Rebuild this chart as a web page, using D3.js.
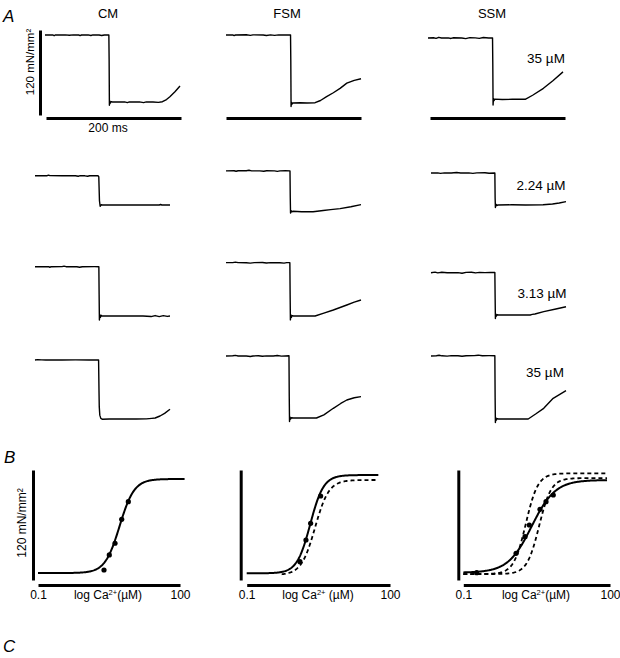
<!DOCTYPE html>
<html><head><meta charset="utf-8">
<script src="https://cdn.jsdelivr.net/npm/d3@7"></script>
<style>
body{margin:0;background:#fff;}
svg{display:block;font-family:"Liberation Sans",Arial,sans-serif;}
</style></head><body>
<svg id="c" width="620" height="658"></svg>
<script>
// ---------------- DATA ----------------
const muscles = ["CM", "FSM", "SSM"];
const concLabels = ["35 µM", "2.24 µM", "3.13 µM", "35 µM"];
const timeBar = [0, 200];          // ms
const forceBar = [0, 120];         // mN/mm²
const xTicksB = [0.1, 100];        // µM

// Force traces: [time (ms), force (mN/mm²)]
const trCM35a = [[0,94.6],[12,94.6],[13.5,93.6],[15,94.6],[30,94.8],[36,94.2],[42,94.8],[50,94.6],[52,93.8],[54,94.6],[64,94.7],[68,93.9],[71,94.8],[80,94.5],[84,93.8],[88,94.6],[94.6,94.6],[95,60],[95.4,-4.5],[96,1.5],[96.8,-1.5],[98,0.5],[100,0],[118,0.2],[122,-0.8],[125,0.2],[140,0.1],[146,-0.9],[150,0.1],[160,0],[168,-0.6],[174,0.4],[180,3.5],[185,7.5],[192.5,14.5],[200,22.6]];
const trFSM35a = [[0,96],[10,96.1],[12,95.2],[14,96],[30,96.3],[36,95.5],[40,96.2],[55,96],[60,95.3],[66,96.2],[72,95.4],[78,96.2],[86,95.9],[95.6,96.2],[96,60],[96.4,-5],[97,1],[97.8,-1.5],[99,0],[110,0.3],[120,0],[132,0.4],[140,3.5],[149,8.9],[159,14.5],[169,20.7],[179,28],[190,32],[200,34.3]];
const trSSM35a = [[0,86.9],[8,87.2],[12,86.3],[16,87.8],[20,86.9],[30,87],[34,86.2],[38,87.2],[50,86.8],[56,86],[62,87.4],[70,87],[76,86.3],[82,87.5],[90,86.8],[95.6,87],[96,50],[96.4,-7.8],[97,1.5],[97.8,-1.5],[99,0.5],[110,0],[125,0.3],[144,0.3],[155,6],[171,15.8],[185,26.5],[200,39]];

const trCM224 = [[0,41.4],[18,41.4],[20,42.2],[22,41.4],[40,41.3],[52,41.5],[60,41.3],[64,40.6],[67,41.4],[74,41.2],[78,40.6],[81,41.3],[93,41.5],[94.5,40],[95.5,6],[96.5,-1.8],[98,0.3],[100,0],[150,0],[184,0],[186,0.7],[188,0],[200,0]];
const trFSM224 = [[0,57],[12,57.2],[15,56.5],[18,57.2],[30,57.3],[34,57.9],[38,57.1],[50,57.1],[56,56.5],[60,57.2],[72,57.1],[76,56.4],[80,57.1],[88,57.3],[94.8,57],[95.2,20],[95.6,-2.5],[96.5,1],[97.5,-0.8],[99,0],[112,-0.6],[129,-0.6],[144,1.2],[155,2.3],[169,3.8],[185,6.5],[200,9.5]];
const trSSM224 = [[0,45.2],[10,45.4],[14,44.7],[20,45.4],[30,45.2],[38,45.8],[44,45.1],[56,45.3],[62,44.6],[68,45.4],[80,45.5],[86,44.8],[94.6,45.2],[95,10],[95.4,-3.5],[96.2,1],[97.2,-0.8],[99,0],[120,0.3],[140,0],[166,0.3],[180,1.5],[190,2.8],[200,4.7]];

const trCM313 = [[0,69.6],[20,69.6],[22,68.8],[24,69.6],[40,69.7],[43,70.4],[46,69.6],[62,69.6],[66,68.9],[70,69.6],[88,69.7],[94.6,69.6],[95,30],[95.4,-5.6],[96,2],[96.8,-2],[98,1],[99,0],[130,0],[160,0],[172,-0.8],[178,0.6],[184,-0.8],[190,0.5],[196,-0.6],[200,0]];
const trFSM313 = [[0,75.3],[10,75.4],[14,76.1],[18,75.3],[30,75.2],[36,74.6],[42,75.4],[54,75.6],[60,74.8],[66,75.4],[80,75.2],[86,74.6],[90,75.4],[94.6,75.3],[95,30],[95.4,-5.5],[96,2],[96.8,-2],[98,0.5],[100,0],[116,0],[132,0],[145,4],[159,8.5],[179,15.5],[190,19.5],[200,22.6]];
const trSSM313 = [[0,59.7],[6,60.5],[10,59.5],[16,60.3],[24,59.7],[40,59.8],[46,59],[52,60.2],[60,60.4],[66,59.4],[72,60.2],[80,59.8],[88,60],[94.6,60],[95,25],[95.4,-5],[96,1.5],[96.8,-1.5],[98,0.4],[100,0],[130,0],[147,0],[150,0.8],[154,1.4],[167,4.7],[185,8.5],[200,11.7]];

const trCM35b = [[0,82.9],[4,83.4],[10,83.1],[16,82.8],[40,82.9],[60,83],[80,82.9],[94.2,83],[94.8,40],[95.2,17],[96,5],[97.5,0.5],[100,-0.8],[110,-0.5],[130,-0.4],[150,-0.4],[165,-0.2],[173,0.5],[178,1],[185.2,3.8],[192,7.6],[200,13.3]];
const trFSM35b = [[0,87.6],[10,87.8],[14,88.4],[18,87.6],[30,87.5],[36,86.9],[40,87.6],[48,87.8],[54,87.1],[60,87.7],[70,87.6],[76,88.2],[82,87.4],[93.3,87.9],[93.7,30],[94.1,-5],[94.8,1.5],[95.6,-1.5],[97,0.4],[100,0],[120,0],[134,0],[145,4.5],[159,13.7],[170,20.5],[179,25.4],[190,28.6],[200,30.1]];
const trSSM35b = [[0,89],[8,89.3],[12,90],[16,89.2],[24,88.8],[30,89.4],[40,89.2],[46,88.5],[52,89.3],[64,89.5],[70,90.1],[76,89.3],[86,89.4],[94.6,89.4],[95,30],[95.4,-5],[96,2],[96.8,-1.5],[98,0.5],[100,0],[120,0],[144,0],[155,7],[167,15.1],[181,29.2],[200,40]];

const traces = [trCM35a, trFSM35a, trSSM35a, trCM224, trFSM224, trSSM224, trCM313, trFSM313, trSSM313, trCM35b, trFSM35b, trSSM35b];

// Panel B: Hill fits: EC50 (µM), nH, Fmin, Fmax (mN/mm²), range (µM)
const fitCM      = {ec50: 5.3,  n: 2.8, fmin: 5.5, fmax: 110,   from: 0.1,  to: 125};
const fitFSM     = {ec50: 2.14, n: 3.1, fmin: 5.2, fmax: 114.4, from: 0.1,  to: 57};
const fitFSMref  = {ec50: 2.7,  n: 3.0, fmin: 3.3, fmax: 108.9, from: 0.54, to: 57};
const fitSSM     = {ec50: 2.5,  n: 1.8, fmin: 5.9, fmax: 108.9, from: 0.1,  to: 87};
const fitSSMrefA = {ec50: 1.9,  n: 3.5, fmin: 4.4, fmax: 116.3, from: 0.1,  to: 87};
const fitSSMrefB = {ec50: 3.55, n: 3.5, fmin: 4.4, fmax: 111,   from: 0.1,  to: 87};

// Measured points [Ca²⁺ µM, force mN/mm²]
const ptsCM  = [[2.48,8.9],[3.21,25.6],[4.24,38.6],[5.87,65.2],[8.09,84.8]];
const ptsFSM = [[1.30,18.1],[1.74,42.2],[2.18,60.8],[3.53,91.1]];
const ptsSSM = [[0.188,5.9],[1.20,27.4],[1.83,45.9],[2.24,58.9],[3.70,76.3],[4.91,84.8],[6.92,92.2]];

// ---------------- LAYOUT ----------------
const svg = d3.select("#c");
const FONT = 12;
// trace origins: [x of t=0, y of zero force]
const traceLayout = [[45,102],[226,103],[428,99.5],[35,205],[226,211.3],[431,205],[35,316],[226,316],[431,315],[35,418.7],[226,418],[431,419]];
const titleX = [108, 287, 492];
const concLabelPos = [[546,63],[541,189.5],[542,298],[545,377]];
const timeBarPos = [[46,118],[226,118],[430,118]];

const xT = d3.scaleLinear().domain(timeBar).range([0,135]);
const yT = d3.scaleLinear().domain(forceBar).range([0,-85]);
const traceLine = d3.line().x(d => xT(d[0])).y(d => yT(d[1]));

// panel letters
[["A",3,22],["B",4,463],["C",3,652]].forEach(([t,x,y]) =>
  svg.append("text").attr("x",x).attr("y",y).attr("font-size",17).attr("font-style","italic").text(t));

// column titles
muscles.forEach((m,i) => svg.append("text").attr("x",titleX[i]).attr("y",18)
  .attr("text-anchor","middle").attr("font-size",13).text(m));

// traces
traces.forEach((tr,i) => {
  svg.append("path").attr("transform",`translate(${traceLayout[i][0]},${traceLayout[i][1]})`)
    .attr("d", traceLine(tr)).attr("fill","none").attr("stroke","#000")
    .attr("stroke-width",1.4).attr("stroke-linejoin","round");
});

// concentration labels
concLabels.forEach((c,i) => svg.append("text").attr("x",concLabelPos[i][0]).attr("y",concLabelPos[i][1])
  .attr("text-anchor","middle").attr("font-size",13.5).text(c));

// force scale bar
const vb = svg.append("g").attr("transform","translate(40,115)")
  .call(d3.axisLeft(yT).tickValues([]).tickSizeOuter(0));
vb.select(".domain").attr("stroke-width",3);
svg.append("text").attr("transform","translate(34,62) rotate(-90)").attr("text-anchor","middle")
  .attr("font-size",11.5).text("120 mN/mm²");

// time bars
timeBarPos.forEach(p => {
  const g = svg.append("g").attr("transform",`translate(${p[0]},${p[1]})`)
    .call(d3.axisBottom(xT).tickValues([]).tickSizeOuter(0));
  g.select(".domain").attr("stroke-width",3);
});
svg.append("text").attr("x",108).attr("y",132).attr("text-anchor","middle").attr("font-size",12).text("200 ms");

// ---------------- PANEL B ----------------
const yB = d3.scaleLinear().domain(forceBar).range([578,470]);
const panelsB = [
  {range:[38,180],   yAxisX:33,    fits:[[fitCM,false]],                              pts:ptsCM,  label:"(µM)",  labelX:108, ylab:true},
  {range:[246.7,390],yAxisX:240.7, fits:[[fitFSMref,true],[fitFSM,false]],            pts:ptsFSM, label:" (µM)", labelX:318},
  {range:[463.3,610],yAxisX:458.3, fits:[[fitSSMrefA,true],[fitSSMrefB,true],[fitSSM,false]], pts:ptsSSM, label:"(µM)",  labelX:536}
];
const hill = (f,c) => f.fmin + (f.fmax - f.fmin) / (1 + Math.pow(f.ec50 / c, f.n));

panelsB.forEach(p => {
  const xB = d3.scaleLog().domain([0.1,100]).range(p.range);
  const gx = svg.append("g").attr("transform","translate(0,585)")
    .call(d3.axisBottom(xB).tickValues(xTicksB).tickSize(0).tickSizeOuter(0).tickPadding(5.5)
      .tickFormat(d3.format("~g")));
  gx.select(".domain").attr("stroke-width",3);
  gx.selectAll("text").attr("font-size",FONT).attr("font-family","Liberation Sans, Arial, sans-serif");
  const gy = svg.append("g").attr("transform",`translate(${p.yAxisX},0)`)
    .call(d3.axisLeft(d3.scaleLinear().domain([-2,120]).range([580,470])).tickValues([]).tickSizeOuter(0));
  gy.select(".domain").attr("stroke-width",3);
  const t = svg.append("text").attr("x",p.labelX).attr("y",599).attr("text-anchor","middle").attr("font-size",FONT);
  t.append("tspan").text("log Ca");
  t.append("tspan").attr("font-size",7.5).attr("dy",-4.5).text("2+");
  t.append("tspan").attr("dy",4.5).text(p.label);
  p.fits.forEach(([f,dashed]) => {
    const lo = Math.log10(f.from), hi = Math.log10(f.to);
    const cs = d3.range(0,201).map(i => Math.pow(10, lo + (hi-lo)*i/200));
    svg.append("path").attr("d", d3.line().x(c => xB(c)).y(c => yB(hill(f,c)))(cs))
      .attr("fill","none").attr("stroke","#000").attr("stroke-width",dashed?1.8:2)
      .attr("stroke-dasharray", dashed ? "4,3" : null);
  });
  svg.append("g").selectAll("circle").data(p.pts).join("circle")
    .attr("cx", d => xB(d[0])).attr("cy", d => yB(d[1])).attr("r",2.6).attr("fill","#000");
  if (p.ylab) svg.append("text").attr("transform","translate(26,523) rotate(-90)").attr("text-anchor","middle")
    .attr("font-size",FONT).text("120 mN/mm²");
});
</script>
</body></html>
